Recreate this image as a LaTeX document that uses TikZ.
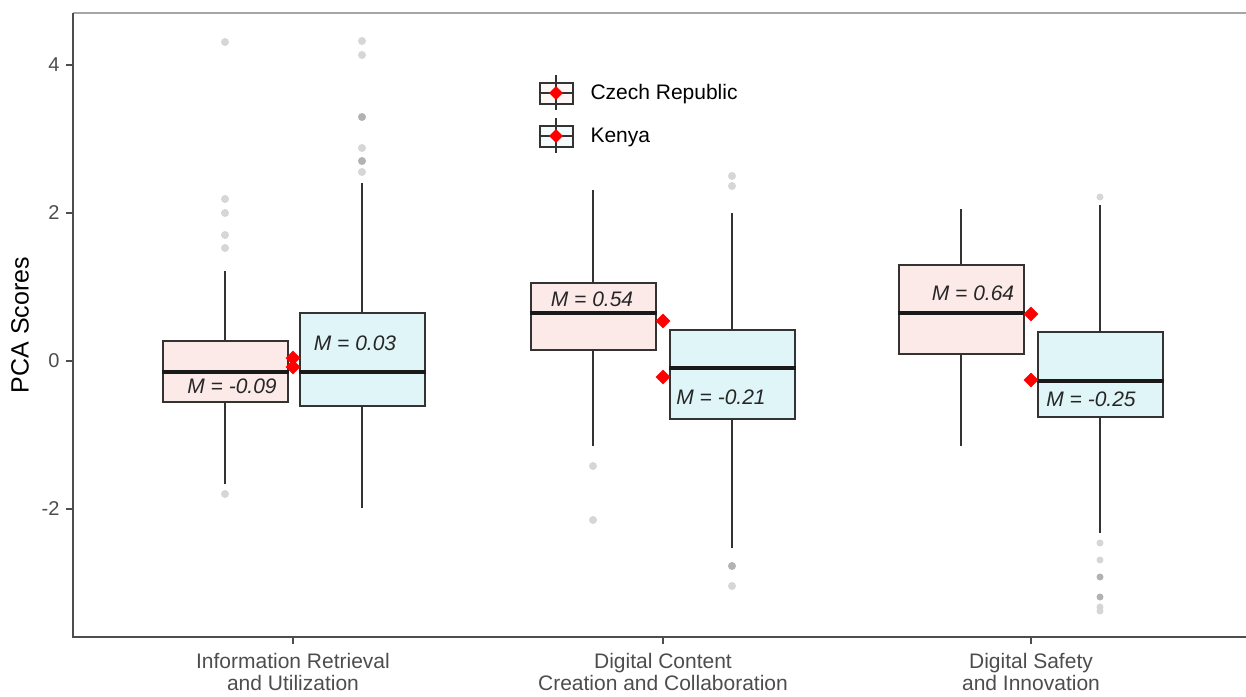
\documentclass[tikz,border=0pt]{standalone}
\usepackage{fontspec}
\setmainfont{Liberation Sans}
\usepackage{tikz}
\usetikzlibrary{shapes.geometric}

\definecolor{czfill}{HTML}{FCEAE9}
\definecolor{kefill}{HTML}{E0F5F7}
\definecolor{axisgray}{HTML}{4D4D4D}
\definecolor{outgray}{HTML}{D6D6D6}

\begin{document}
\begin{tikzpicture}[x=1pt,y=-1pt,
    czbox/.style={draw=black!80,line width=2pt,fill=czfill,minimum width=125pt,inner sep=0pt},
    kebox/.style={draw=black!80,line width=2pt,fill=kefill,minimum width=125pt,inner sep=0pt},
    whisk/.style={draw=black!80,line width=2pt},
    medline/.style={draw=black!90,line width=3.6pt},
    outl/.style={fill=outgray},
    outd/.style={fill=black!30},
    meanpt/.style={diamond,fill=red,inner sep=0pt,minimum size=15pt},
    mlabel/.style={font=\fontsize{21}{24}\selectfont\itshape,text=black!85,inner sep=1pt},
    ticklab/.style={font=\fontsize{20}{22}\selectfont,text=axisgray},
    catlab/.style={font=\fontsize{21}{21.6}\selectfont,text=axisgray,align=center},
    leglab/.style={font=\fontsize{21}{24}\selectfont,anchor=west}]

  \useasboundingbox (0,0) rectangle (1246,696);

  % panel
  \draw[gray!70,line width=2pt] (73,13) -- (1246,13);
  \draw[axisgray,line width=2pt] (73,13) -- (73,637) -- (1246,637);

  % y axis
  \node[ticklab,anchor=east] (t4) at (63,65) {4};
  \node[ticklab,anchor=east] (t2) at (63,213) {2};
  \node[ticklab,anchor=east] (t0) at (63,361) {0};
  \node[ticklab,anchor=east] (tm2) at (63,509) {-2};
  \draw[axisgray,line width=2pt] (66,65) -- (73,65) (66,213) -- (73,213)
        (66,361) -- (73,361) (66,509) -- (73,509);
  \node[font=\fontsize{25}{28}\selectfont,rotate=90] (ytitle) at (20,325) {PCA Scores};

  % x axis
  \draw[axisgray,line width=2pt] (293,637) -- (293,644) (663,637) -- (663,644)
        (1031,637) -- (1031,644);
  \node[catlab] (cat1) at (293,672) {Information Retrieval\\and Utilization};
  \node[catlab] (cat2) at (663,672) {Digital Content\\Creation and Collaboration};
  \node[catlab] (cat3) at (1031,672) {Digital Safety\\and Innovation};

  % outliers
  \foreach \y in {42,199,213,235,248,494} \fill[outl] (225,\y) circle (4pt);
  \foreach \y in {41,55,148,172} \fill[outl] (362,\y) circle (4pt);
  \foreach \y in {117,161} \fill[outd] (362,\y) circle (4pt);
  \foreach \y in {466,520} \fill[outl] (593,\y) circle (4pt);
  \foreach \y in {176,186,586} \fill[outl] (732,\y) circle (4pt);
  \fill[outd] (732,566) circle (4pt);
  \foreach \y in {197,543,560,607,611} \fill[outl] (1100,\y) circle (3.5pt);
  \foreach \y in {577,597} \fill[outd] (1100,\y) circle (3.5pt);

  % Information Retrieval and Utilization
  \coordinate (irCtop) at (225,271);
  \coordinate (irCbot) at (225,484);
  \node[czbox,minimum height=61pt] (irC) at (225,371.5) {};
  \draw[whisk] (irC.north) -- (irCtop) (irC.south) -- (irCbot);
  \draw[medline] (irC.west |- 0,372) -- (irC.east |- 0,372);

  \coordinate (irKtop) at (362,183);
  \coordinate (irKbot) at (362,508);
  \node[kebox,minimum height=93pt] (irK) at (362,359.5) {};
  \draw[whisk] (irK.north) -- (irKtop) (irK.south) -- (irKbot);
  \draw[medline] (irK.west |- 0,372) -- (irK.east |- 0,372);

  % Digital Content Creation and Collaboration
  \coordinate (dcCtop) at (593,190);
  \coordinate (dcCbot) at (593,446);
  \node[czbox,minimum height=67pt] (dcC) at (593,316.5) {};
  \draw[whisk] (dcC.north) -- (dcCtop) (dcC.south) -- (dcCbot);
  \draw[medline] (dcC.west |- 0,313) -- (dcC.east |- 0,313);

  \coordinate (dcKtop) at (732,213);
  \coordinate (dcKbot) at (732,548);
  \node[kebox,minimum height=89pt] (dcK) at (732,374.5) {};
  \draw[whisk] (dcK.north) -- (dcKtop) (dcK.south) -- (dcKbot);
  \draw[medline] (dcK.west |- 0,368) -- (dcK.east |- 0,368);

  % Digital Safety and Innovation
  \coordinate (dsCtop) at (961,209);
  \coordinate (dsCbot) at (961,446);
  \node[czbox,minimum height=89pt] (dsC) at (961,309.5) {};
  \draw[whisk] (dsC.north) -- (dsCtop) (dsC.south) -- (dsCbot);
  \draw[medline] (dsC.west |- 0,313) -- (dsC.east |- 0,313);

  \coordinate (dsKtop) at (1100,205);
  \coordinate (dsKbot) at (1100,533);
  \node[kebox,minimum height=85pt] (dsK) at (1100,374.5) {};
  \draw[whisk] (dsK.north) -- (dsKtop) (dsK.south) -- (dsKbot);
  \draw[medline] (dsK.west |- 0,381) -- (dsK.east |- 0,381);

  % means
  \node[meanpt] (irCm) at (293,367) {};
  \node[meanpt] (irKm) at (293,358) {};
  \node[meanpt] (dcCm) at (663,321) {};
  \node[meanpt] (dcKm) at (663,377) {};
  \node[meanpt] (dsCm) at (1031,314) {};
  \node[meanpt] (dsKm) at (1031,380) {};

  \node[mlabel] (irClab) at (232,386) {M = -0.09};
  \node[mlabel] (irKlab) at (355,343) {M = 0.03};
  \node[mlabel] (dcClab) at (592,299) {M = 0.54};
  \node[mlabel] (dcKlab) at (721,397) {M = -0.21};
  \node[mlabel] (dsClab) at (973,293) {M = 0.64};
  \node[mlabel] (dsKlab) at (1091,399) {M = -0.25};

  % legend
  \draw[whisk,line width=1.6pt] (556,75) -- (556,110) (556,118) -- (556,153);
  \node[draw=black!80,line width=2pt,fill=czfill!40,minimum width=33pt,minimum height=21pt,inner sep=0pt] (czkey) at (556,93) {};
  \node[draw=black!80,line width=2pt,fill=kefill!40,minimum width=33pt,minimum height=21pt,inner sep=0pt] (kekey) at (556,136) {};
  \draw[whisk,line width=1.6pt] (czkey.west) -- (czkey.east) (kekey.west) -- (kekey.east);
  \draw[whisk,line width=1.6pt] (czkey.north) -- (czkey.south) (kekey.north) -- (kekey.south);
  \node[meanpt,minimum size=14pt] (czmean) at (czkey) {};
  \node[meanpt,minimum size=14pt] (kemean) at (kekey) {};
  \node[leglab] (czlab) at (587,94) {Czech Republic};
  \node[leglab] (kelab) at (587,137) {Kenya};
\end{tikzpicture}
\end{document}
